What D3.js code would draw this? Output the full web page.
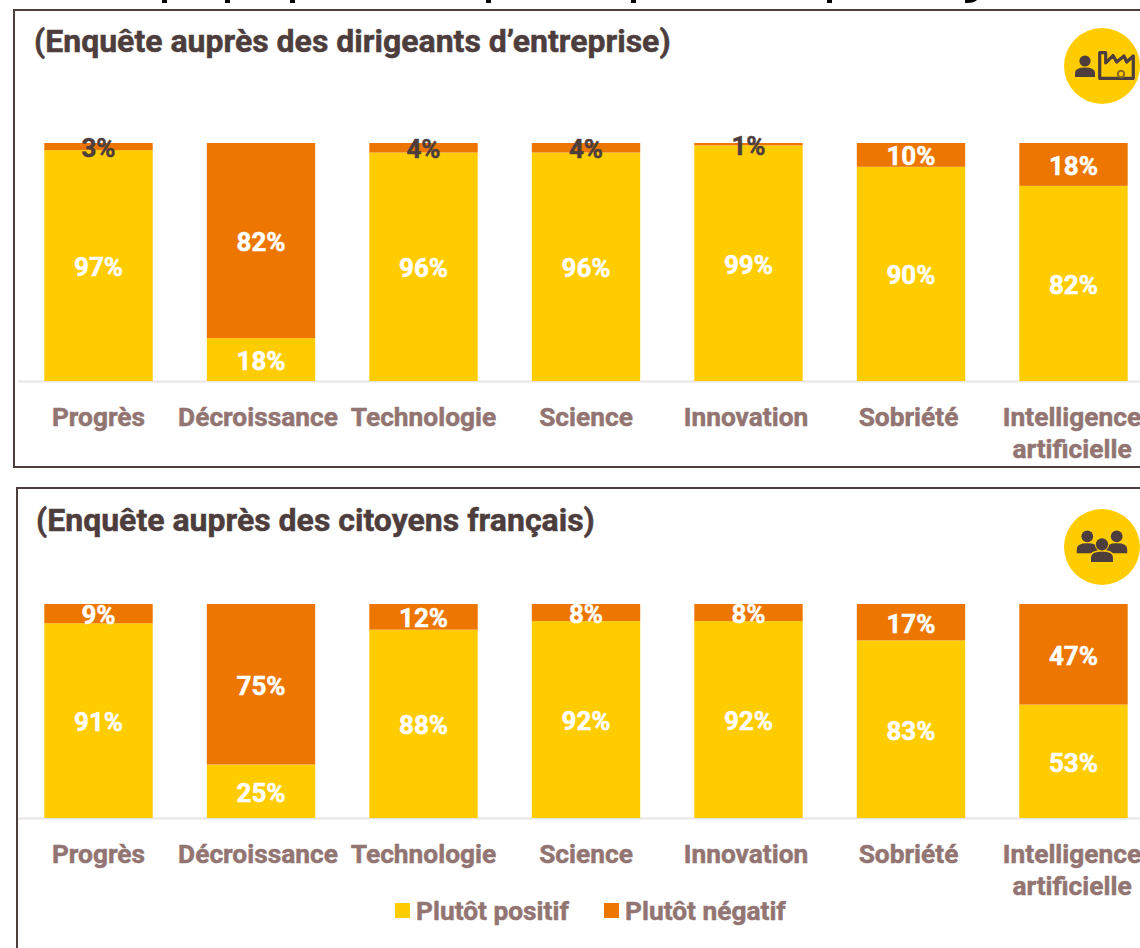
<!DOCTYPE html>
<html><head><meta charset="utf-8"><script src="https://d3js.org/d3.v7.min.js"></script>
<style>html,body{margin:0;padding:0;background:#fff}svg{display:block}text{font-family:Roboto,sans-serif;font-weight:700}</style></head>
<body><svg id="c" width="1140" height="948"></svg>
<script>
const categories=["Progrès","Décroissance","Technologie","Science","Innovation","Sobriété","Intelligence artificielle"];
const dirigeantsPositif=[97,18,96,96,99,90,82];
const dirigeantsNegatif=[3,82,4,4,1,10,18];
const citoyensPositif=[91,25,88,92,92,83,53];
const citoyensNegatif=[9,75,12,8,8,17,47];
const seriesNames=["Plutôt positif","Plutôt négatif"];
const titles=["(Enquête auprès des dirigeants d’entreprise)","(Enquête auprès des citoyens français)"];
const YEL="#FFCC00",ORG="#EC7600",DK="#4D3D3D",LAB="#927572";
const svg=d3.select("#c");
// remnants of the heading cropped by the top edge of the picture
[[162,5],[225,5],[290,5],[486,5],[631,5],[827,5]].forEach(d=>svg.append("rect").attr("x",d[0]).attr("y",0).attr("width",d[1]).attr("height",3).attr("fill","#000"));
svg.append("path").attr("d","M965,0H977Q974,3.5 965,3Z").attr("fill","#000");
const x=d3.scaleBand().domain(categories).range([17.5,1154.5]).paddingInner(0.333).paddingOuter(0.165);
const labelNudge={"Décroissance":-3,"Innovation":-2.5,"Sobriété":-2.5,"Intelligence artificielle":-1.5};
const bold=(t,col,w)=>t.attr("fill",col).attr("stroke",col).attr("stroke-width",w);
function panel(o){
  const g=svg.append("g");
  g.append("rect").attr("x",o.fx).attr("y",o.fy).attr("width",1140-o.fx+10).attr("height",o.fh).attr("fill","none").attr("stroke",DK).attr("stroke-width",2);
  bold(g.append("text").attr("x",o.tx).attr("y",o.ty).attr("font-size",32).text(o.title),DK,.5);
  const y=d3.scaleLinear().domain([0,100]).range([o.y0,o.y1]);
  const xa=g.append("g").attr("transform",`translate(0,${o.y0})`).call(d3.axisBottom(x).tickSize(0).tickFormat(""));
  xa.select(".domain").attr("stroke","#E8E4E4").attr("stroke-width",2);
  categories.forEach((c,i)=>{
    const p=o.pos[i],n=o.neg[i],bx=x(c),w=x.bandwidth();
    g.append("rect").attr("x",bx).attr("width",w).attr("y",y(p)).attr("height",y(0)-y(p)).attr("fill",YEL);
    g.append("rect").attr("x",bx).attr("width",w).attr("y",y(100)).attr("height",y(p)-y(100)).attr("fill",ORG);
    const cx=bx+w/2;
    const lab=(v,yy,col)=>bold(g.append("text").attr("x",cx).attr("y",yy+1).attr("dy","0.36em").attr("text-anchor","middle").attr("font-size",26).text(v+"%"),col,.5);
    lab(p,y(p/2),"#fff");
    lab(n,y(p+n/2),o.darkSmall&&n<5?DK:"#fff");
    c.split(" ").forEach((t,k)=>bold(g.append("text").attr("x",cx+(labelNudge[c]||0)).attr("y",o.y0+45+k*31.5).attr("text-anchor","middle").attr("font-size",26.3).text(t),LAB,.5));
  });
  const ic=g.append("g").attr("transform",`translate(1102,${o.iy})`);
  ic.append("circle").attr("r",38).attr("fill",YEL);
  o.icon(ic);
}
function person(g,cx,cy,s,halo){
  const b=g.append("path").attr("fill",DK).attr("d",`M${cx-10*s},${cy+9*s}V${cy+5*s}Q${cx-10*s},${cy-.5*s} ${cx},${cy-.5*s}Q${cx+10*s},${cy-.5*s} ${cx+10*s},${cy+5*s}V${cy+9*s}Z`);
  if(halo) b.attr("stroke",YEL).attr("stroke-width",3).attr("paint-order","stroke");
  const h=g.append("circle").attr("cx",cx).attr("cy",cy-7*s).attr("r",5.6*s).attr("fill",DK);
  if(halo) h.attr("stroke",YEL).attr("stroke-width",2).attr("paint-order","stroke");
}
panel({fx:14,fy:10,fh:457,tx:34,ty:52,title:titles[0],y0:381,y1:143,pos:dirigeantsPositif,neg:dirigeantsNegatif,darkSmall:true,iy:66,
 icon:g=>{person(g,-17,2,1);
  g.append("path").attr("fill","none").attr("stroke",DK).attr("stroke-width",3.2).attr("stroke-linejoin","round").attr("d","M-2.3,12.3V-13.3H3.7V-3L11,-10.5L14.7,-4L22,-10L24.7,-4L31.3,-10V12.3Z");
  g.append("circle").attr("cx",19).attr("cy",8).attr("r",3.2).attr("fill","none").attr("stroke","#8a6a1e").attr("stroke-width",2);}});
panel({fx:17,fy:488,fh:470,tx:36,ty:531,title:titles[1],y0:818,y1:604,pos:citoyensPositif,neg:citoyensNegatif,darkSmall:false,iy:547,
 icon:g=>{person(g,-14.7,-3.3,1.05);person(g,14.7,-3.3,1.05);person(g,0,5,1.1,true);}});
const lg=svg.append("g");
[[395,416,YEL],[604,625,ORG]].forEach((d,i)=>{
  lg.append("rect").attr("x",d[0]).attr("y",903).attr("width",15).attr("height",15).attr("fill",d[2]);
  bold(lg.append("text").attr("x",d[1]).attr("y",920).attr("font-size",26.3).text(seriesNames[i]),LAB,.5);
});
</script></body></html>
